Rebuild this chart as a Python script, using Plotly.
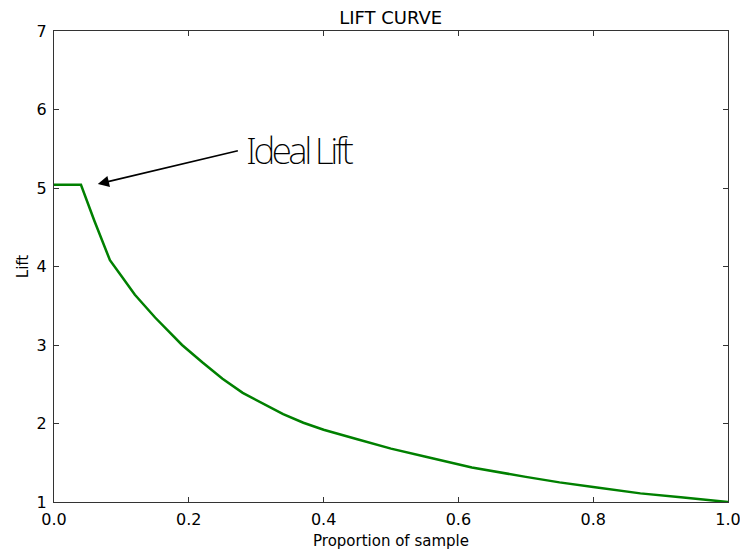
import plotly.graph_objects as go

# lift curve values
proportion = [0.0, 0.02, 0.04, 0.06, 0.083, 0.10, 0.12, 0.15, 0.17, 0.19, 0.22, 0.25, 0.28,
              0.31, 0.34, 0.37, 0.40, 0.45, 0.50, 0.55, 0.62, 0.70, 0.75, 0.80,
              0.87, 0.93, 1.0]
lift = [5.04, 5.04, 5.04, 4.58, 4.08, 3.88, 3.64, 3.35, 3.17, 3.00, 2.78, 2.57, 2.39,
        2.25, 2.12, 2.01, 1.92, 1.80, 1.68, 1.58, 1.44, 1.32, 1.25, 1.19,
        1.11, 1.06, 1.00]

x_ticks = [0.0, 0.2, 0.4, 0.6, 0.8, 1.0]
y_ticks = [1, 2, 3, 4, 5, 6, 7]

fig = go.Figure(go.Scatter(x=proportion, y=lift, mode='lines',
                           line=dict(color='#008000', width=2.5),
                           showlegend=False))

# arrow + label
fig.add_annotation(x=0.065, y=5.05, ax=0.275, ay=5.48, xref='x', yref='y',
                   axref='x', ayref='y', showarrow=True, arrowhead=2,
                   arrowsize=1.4, arrowwidth=1.6, arrowcolor='black', text='')
fig.add_annotation(x=0.282, y=5.49, xref='x', yref='y', showarrow=False,
                   text='<span style="letter-spacing:-3.5px">Ideal Lift</span>',
                   xanchor='left', yanchor='middle',
                   font=dict(family='Noto Sans, Open Sans', size=37, color='black', weight=200))

axis_style = dict(showline=True, linecolor='#333', linewidth=1, mirror='ticks',
                  ticks='inside', ticklen=5, tickcolor='#333', showgrid=False,
                  zeroline=False, automargin=False, ticklabelstandoff=3,
                  ticklabeloverflow='allow', tickfont=dict(size=16, color='black'))

fig.update_xaxes(range=[0, 1], tickvals=x_ticks, tickformat='.1f',
                 title=dict(text='Proportion of sample', font=dict(size=15), standoff=7),
                 **axis_style)
fig.update_yaxes(range=[1, 7], tickvals=y_ticks,
                 title=dict(text='Lift', font=dict(size=15), standoff=4),
                 **axis_style)

fig.update_layout(width=740, height=550,
                  margin=dict(l=54, r=12, t=31, b=48),
                  title=dict(text='LIFT CURVE', x=0.528, xanchor='center',
                             y=0.968, yanchor='middle',
                             font=dict(size=18, color='black')),
                  font=dict(family='DejaVu Sans', color='black'),
                  plot_bgcolor='white', paper_bgcolor='white')

# the page's default body margin would push the figure 8px off
fig.write_html("out.html", config={'displayModeBar': False},
               post_script="document.body.style.margin='0';")
